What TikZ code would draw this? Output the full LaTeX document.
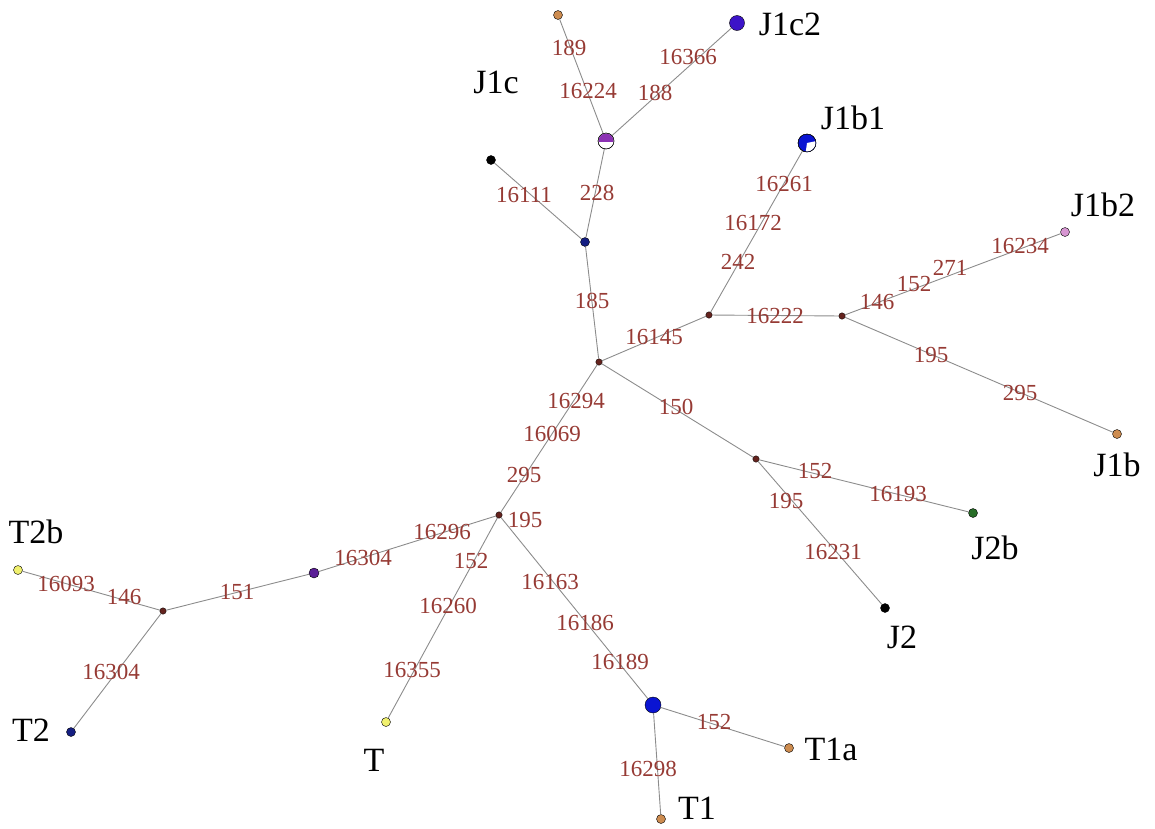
\documentclass[tikz,border=0pt]{standalone}
\usepackage{fontspec}
\setmainfont{Liberation Serif}
\definecolor{edgec}{RGB}{140,140,140}
\definecolor{lblc}{RGB}{150,58,52}
\definecolor{brownn}{RGB}{100,35,30}
\definecolor{orangen}{RGB}{205,140,80}
\definecolor{yellown}{RGB}{240,240,110}
\definecolor{navyn}{RGB}{20,30,130}
\definecolor{bluen}{RGB}{10,20,210}
\definecolor{purplen}{RGB}{90,30,150}
\definecolor{greenn}{RGB}{40,110,40}
\definecolor{pinkn}{RGB}{215,150,210}
\definecolor{jcpurple}{RGB}{140,50,180}
\definecolor{jc2}{RGB}{60,20,200}
\tikzset{
  hap/.style={circle,draw=black,line width=0.4pt,inner sep=0pt,minimum size=9pt},
  knot/.style={circle,fill=brownn,draw=black,line width=0.3pt,inner sep=0pt,minimum size=6.5pt},
  big/.style={circle,draw=black,line width=0.4pt,inner sep=0pt,minimum size=16pt},
  elbl/.style={text=lblc,font=\fontsize{23}{23}\selectfont,inner sep=0pt},
  nlbl/.style={text=black,font=\fontsize{34}{34}\selectfont,inner sep=0pt},
  link/.style={draw=edgec,line width=0.9pt}
}
\begin{document}
\begin{tikzpicture}[x=1pt,y=-1pt]
\useasboundingbox (0,0) rectangle (1155,828);
% nodes
\node[hap,fill=orangen] (top) at (558,15) {};
\node[big,fill=jc2,minimum size=15pt] (j1c2) at (737,23) {};
\node[big,fill=white,minimum size=16pt] (j1c) at (606,141) {};
\node[hap,fill=black] (blk) at (491,160) {};
\node[hap,fill=navyn] (nav) at (585,242) {};
\node[knot] (ctr) at (599,362) {};
\node[knot] (n1) at (709,315) {};
\node[knot] (n2) at (842,316) {};
\node[big,fill=bluen,minimum size=18pt] (j1b1) at (807,143) {};
\node[hap,fill=pinkn] (j1b2) at (1065,232) {};
\node[hap,fill=orangen] (j1b) at (1117,434) {};
\node[knot] (n3) at (756,459) {};
\node[hap,fill=greenn] (j2b) at (973,513) {};
\node[hap,fill=black] (j2) at (885,608) {};
\node[knot] (n4) at (499,515) {};
\node[hap,fill=purplen,minimum size=10pt] (pur) at (314,573) {};
\node[knot] (n5) at (163,611) {};
\node[hap,fill=yellown] (t2b) at (18,570) {};
\node[hap,fill=navyn] (t2) at (71,732) {};
\node[hap,fill=yellown] (t) at (386,722) {};
\node[big,fill=bluen] (bl) at (653,705) {};
\node[hap,fill=orangen] (t1a) at (789,748) {};
\node[hap,fill=orangen] (t1) at (661,819) {};
% edges
\path[link] (top) -- (j1c);
\path[link] (j1c2) -- (j1c);
\path[link] (j1c) -- (nav);
\path[link] (blk) -- (nav);
\path[link] (nav) -- (ctr);
\path[link] (ctr) -- (n1);
\path[link] (n1) -- (j1b1);
\path[link] (n1) -- (n2);
\path[link] (n2) -- (j1b2);
\path[link] (n2) -- (j1b);
\path[link] (ctr) -- (n3);
\path[link] (n3) -- (j2b);
\path[link] (n3) -- (j2);
\path[link] (ctr) -- (n4);
\path[link] (n4) -- (pur);
\path[link] (pur) -- (n5);
\path[link] (n5) -- (t2b);
\path[link] (n5) -- (t2);
\path[link] (n4) -- (t);
\path[link] (n4) -- (bl);
\path[link] (bl) -- (t1a);
\path[link] (bl) -- (t1);
% pie details
\begin{scope}
\clip (597,132) rectangle (615,141);
\fill[jcpurple] (j1c.center) circle[radius=7.5pt];
\end{scope}
\begin{scope}
\clip (j1b1.center) -- ++(14,-3) -- ++(0,17) -- ++(-16,0) -- cycle;
\fill[white] (j1b1.center) circle[radius=8.5pt];
\end{scope}
\draw[black,line width=0.4pt] (j1b1.center) circle[radius=9pt];
\draw[black,line width=0.4pt] (j1c.center) circle[radius=8pt];
% edge labels
\node[elbl] (e1) at (569,48) {189};
\node[elbl] (e2) at (588,91) {16224};
\node[elbl] (e3) at (655,93) {188};
\node[elbl] (e4) at (688,57) {16366};
\node[elbl] (e5) at (524,195) {16111};
\node[elbl] (e6) at (597,193) {228};
\node[elbl] (e7) at (784,184) {16261};
\node[elbl] (e8) at (753,223) {16172};
\node[elbl] (e9) at (738,262) {242};
\node[elbl] (e10) at (592,301) {185};
\node[elbl] (e11) at (654,337) {16145};
\node[elbl] (e12) at (775,316) {16222};
\node[elbl] (e13) at (877,302) {146};
\node[elbl] (e14) at (914,284) {152};
\node[elbl] (e15) at (950,268) {271};
\node[elbl] (e16) at (1020,246) {16234};
\node[elbl] (e17) at (931,355) {195};
\node[elbl] (e18) at (1020,393) {295};
\node[elbl] (e19) at (676,407) {150};
\node[elbl] (e20) at (576,401) {16294};
\node[elbl] (e21) at (552,434) {16069};
\node[elbl] (e22) at (524,475) {295};
\node[elbl] (e23) at (815,471) {152};
\node[elbl] (e24) at (898,494) {16193};
\node[elbl] (e25) at (786,501) {195};
\node[elbl] (e26) at (833,552) {16231};
\node[elbl] (e27) at (442,532) {16296};
\node[elbl] (e28) at (363,558) {16304};
\node[elbl] (e29) at (471,561) {152};
\node[elbl] (e30) at (525,520) {195};
\node[elbl] (e31) at (550,582) {16163};
\node[elbl] (e32) at (585,623) {16186};
\node[elbl] (e33) at (448,606) {16260};
\node[elbl] (e34) at (412,670) {16355};
\node[elbl] (e35) at (620,662) {16189};
\node[elbl] (e36) at (237,592) {151};
\node[elbl] (e37) at (66,584) {16093};
\node[elbl] (e38) at (124,597) {146};
\node[elbl] (e39) at (111,672) {16304};
\node[elbl] (e40) at (714,722) {152};
\node[elbl] (e41) at (648,769) {16298};
% haplogroup labels
\node[nlbl] (L1) at (790,24) {J1c2};
\node[nlbl] (L2) at (496,82) {J1c};
\node[nlbl] (L3) at (853,118) {J1b1};
\node[nlbl] (L4) at (1103,205) {J1b2};
\node[nlbl] (L5) at (1117,465) {J1b};
\node[nlbl] (L6) at (995,548) {J2b};
\node[nlbl] (L7) at (902,637) {J2};
\node[nlbl] (L8) at (36,532) {T2b};
\node[nlbl] (L9) at (31,730) {T2};
\node[nlbl] (L10) at (374,760) {T};
\node[nlbl] (L11) at (831,749) {T1a};
\node[nlbl] (L12) at (697,808) {T1};
\end{tikzpicture}
\end{document}
